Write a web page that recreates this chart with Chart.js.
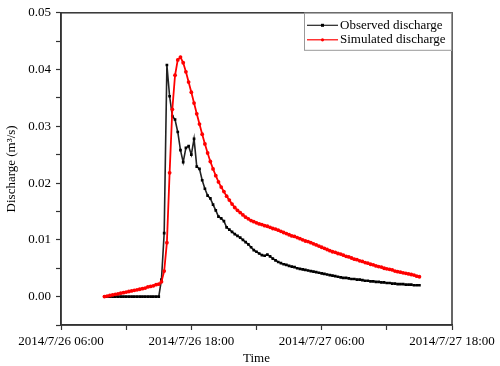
<!DOCTYPE html>
<html>
<head>
<meta charset="utf-8">
<script src="https://cdn.jsdelivr.net/npm/chart.js@4.4.1/dist/chart.umd.min.js"></script>
<style>
    body { margin: 0; background: #fff; }
    #chart { display: block; }
</style>
</head>
<body>
<canvas id="chart" width="500" height="366"></canvas>
<script>
// Tiempo en horas desde 2014/7/26 00:00, una muestra cada 15 minutos
const startHour = 10;
const stepHours = 0.25;

// Caudal observado (m3/s)
const observed = [
    0, 0, 0, 0,
    0, 0, 0, 0,
    0, 0, 0, 0,
    0, 0, 0, 0,
    0, 0, 0, 0,
    0.0000, 0.0030, 0.0112, 0.0408,
    0.0353, 0.0318, 0.0312, 0.0290,
    0.0258, 0.0237, 0.0262, 0.0265,
    0.0250, 0.0278, 0.0229, 0.0225,
    0.0205, 0.0190, 0.0178, 0.0173,
    0.0162, 0.0152, 0.0141, 0.0138,
    0.0133, 0.0122, 0.0118, 0.0114,
    0.0110, 0.0107, 0.0104, 0.0100,
    0.0096, 0.0092, 0.0087, 0.0082,
    0.0079, 0.0076, 0.0073, 0.0072,
    0.0074, 0.0071, 0.0067, 0.0064,
    0.0061, 0.0059, 0.0057, 0.0056,
    0.0054, 0.0053, 0.0052, 0.0050,
    0.0049, 0.0048, 0.0047, 0.0046,
    0.0045, 0.0044, 0.0043, 0.0042,
    0.0041, 0.0040, 0.0039, 0.0038,
    0.0037, 0.0036, 0.0035, 0.0034,
    0.0033, 0.0033, 0.0032, 0.0031,
    0.0031, 0.0030, 0.0030, 0.0029,
    0.0028, 0.0028, 0.0027, 0.0027,
    0.0026, 0.0026, 0.0025, 0.0025,
    0.0024, 0.0024, 0.0023, 0.0023,
    0.0022, 0.0022, 0.0022, 0.0021,
    0.0021, 0.0021, 0.0020, 0.0020,
    0.0020
];

// Caudal simulado (m3/s)
const simulated = [
    0.0000, 0.0001, 0.0002, 0.0003,
    0.0004, 0.0005, 0.0006, 0.0007,
    0.0008, 0.0009, 0.0010, 0.0011,
    0.0012, 0.0013, 0.0014, 0.0015,
    0.0017, 0.0018, 0.0019, 0.0021,
    0.0022, 0.0026, 0.0045, 0.0095,
    0.0218, 0.0330, 0.0390, 0.0417,
    0.0422, 0.0412, 0.0396, 0.0378,
    0.0360, 0.0341, 0.0322, 0.0304,
    0.0286, 0.0269, 0.0253, 0.0238,
    0.0225, 0.0213, 0.0202, 0.0193,
    0.0185, 0.0177, 0.0170, 0.0163,
    0.0157, 0.0152, 0.0148, 0.0144,
    0.0140, 0.0137, 0.0134, 0.0132,
    0.0130, 0.0128, 0.0127, 0.0125,
    0.0124, 0.0122, 0.0120, 0.0119,
    0.0117, 0.0115, 0.0113, 0.0111,
    0.0109, 0.0107, 0.0106, 0.0104,
    0.0102, 0.0100, 0.0098, 0.0097,
    0.0095, 0.0093, 0.0091, 0.0089,
    0.0087, 0.0085, 0.0083, 0.0081,
    0.0079, 0.0078, 0.0076, 0.0075,
    0.0073, 0.0071, 0.0070, 0.0068,
    0.0066, 0.0065, 0.0063, 0.0062,
    0.0060, 0.0059, 0.0057, 0.0056,
    0.0054, 0.0053, 0.0052, 0.0050,
    0.0049, 0.0048, 0.0047, 0.0045,
    0.0044, 0.0043, 0.0042, 0.0041,
    0.0040, 0.0039, 0.0038, 0.0036,
    0.0035
];

// Etiquetas del eje X
const xTickHours = [6, 18, 30, 42];
const xTickLabels = ['2014/7/26 06:00', '2014/7/26 18:00', '2014/7/27 06:00', '2014/7/27 18:00'];

const seriesNames = ['Observed discharge', 'Simulated discharge'];
const seriesColors = ['#000000', '#ff0000'];
const lineColors = ['#222222', '#ff0000'];
const pointStyles = ['rect', 'circle'];

const FONT = 'Liberation Serif, Times New Roman, serif';

function toPoints(values) {
    return values.map((v, i) => ({ x: startHour + i * stepHours, y: v }));
}

// Marco completo y leyenda dentro del area del grafico
const framePlugin = {
    id: 'frame',
    afterDraw(chart) {
        const ctx = chart.ctx;
        const a = chart.chartArea;
        ctx.save();
        ctx.strokeStyle = '#333';
        ctx.lineWidth = 1.5;
        ctx.strokeRect(a.left, a.top, a.right - a.left, a.bottom - a.top);

        // Leyenda
        const boxW = 148, boxH = 38;
        const bx = a.right - boxW, by = a.top;
        ctx.fillStyle = '#fff';
        ctx.fillRect(bx, by, boxW, boxH);
        ctx.strokeStyle = '#999';
        ctx.lineWidth = 1;
        ctx.strokeRect(bx + 0.5, by + 0.5, boxW - 1, boxH - 1);

        ctx.font = '13px ' + FONT;
        ctx.textBaseline = 'middle';
        seriesNames.forEach((name, i) => {
            const y = by + 12.5 + i * 14.5;
            ctx.strokeStyle = lineColors[i];
            ctx.lineWidth = 1.2;
            ctx.beginPath();
            ctx.moveTo(bx + 3, y);
            ctx.lineTo(bx + 34, y);
            ctx.stroke();
            ctx.fillStyle = seriesColors[i];
            if (pointStyles[i] === 'rect') {
                ctx.fillRect(bx + 17, y - 1.5, 3, 3);
            } else {
                ctx.beginPath();
                ctx.arc(bx + 18.5, y, 1.6, 0, Math.PI * 2);
                ctx.fill();
            }
            ctx.fillStyle = '#000';
            ctx.fillText(name, bx + 36, y);
        });
        ctx.restore();
    }
};

new Chart(document.getElementById('chart'), {
    type: 'line',
    data: {
        datasets: [
            {
                label: seriesNames[0],
                data: toPoints(observed),
                borderColor: lineColors[0],
                backgroundColor: seriesColors[0],
                borderWidth: 1.6,
                pointStyle: pointStyles[0],
                pointRadius: 1.9,
                pointBorderWidth: 0,
                order: 1
            },
            {
                label: seriesNames[1],
                data: toPoints(simulated),
                borderColor: lineColors[1],
                backgroundColor: seriesColors[1],
                borderWidth: 1.8,
                pointStyle: pointStyles[1],
                pointRadius: 1.9,
                pointBorderWidth: 0,
                order: 0
            }
        ]
    },
    options: {
        responsive: false,
        animation: false,
        devicePixelRatio: 1,
        layout: { padding: { left: 0, right: 48, top: 10, bottom: 0 } },
        plugins: {
            legend: { display: false },
            tooltip: { enabled: false }
        },
        scales: {
            x: {
                type: 'linear',
                min: 6,
                max: 42,
                afterFit: s => { s.height = 41; },
                border: { display: true, color: '#333', width: 1.5 },
                grid: { drawOnChartArea: false, tickLength: 5, color: '#333', tickWidth: 1.2 },
                ticks: {
                    stepSize: 6,
                    autoSkip: false,
                    maxRotation: 0,
                    padding: 4,
                    color: '#000',
                    font: { family: FONT, size: 13 },
                    callback: value => {
                        const i = xTickHours.indexOf(Math.round(value));
                        return i >= 0 ? xTickLabels[i] : '';
                    }
                },
                title: {
                    display: true,
                    text: 'Time',
                    color: '#000',
                    font: { family: FONT, size: 13 },
                    padding: { top: 0, bottom: 0 }
                }
            },
            y: {
                type: 'linear',
                min: -0.005,
                max: 0.05,
                afterFit: s => { s.width = 61; },
                border: { display: true, color: '#333', width: 1.5 },
                grid: { drawOnChartArea: false, tickLength: 5, color: '#333', tickWidth: 1.2 },
                ticks: {
                    stepSize: 0.005,
                    autoSkip: false,
                    padding: 5,
                    color: '#000',
                    font: { family: FONT, size: 13 },
                    callback: value => {
                        const r = Math.round(value * 1000);
                        return (r >= 0 && r % 10 === 0) ? (r / 1000).toFixed(2) : '';
                    }
                },
                title: {
                    display: true,
                    text: 'Discharge (m³/s)',
                    color: '#000',
                    font: { family: FONT, size: 13 },
                    padding: { top: 4, bottom: 0 }
                }
            }
        }
    },
    plugins: [framePlugin]
});
</script>
</body>
</html>
